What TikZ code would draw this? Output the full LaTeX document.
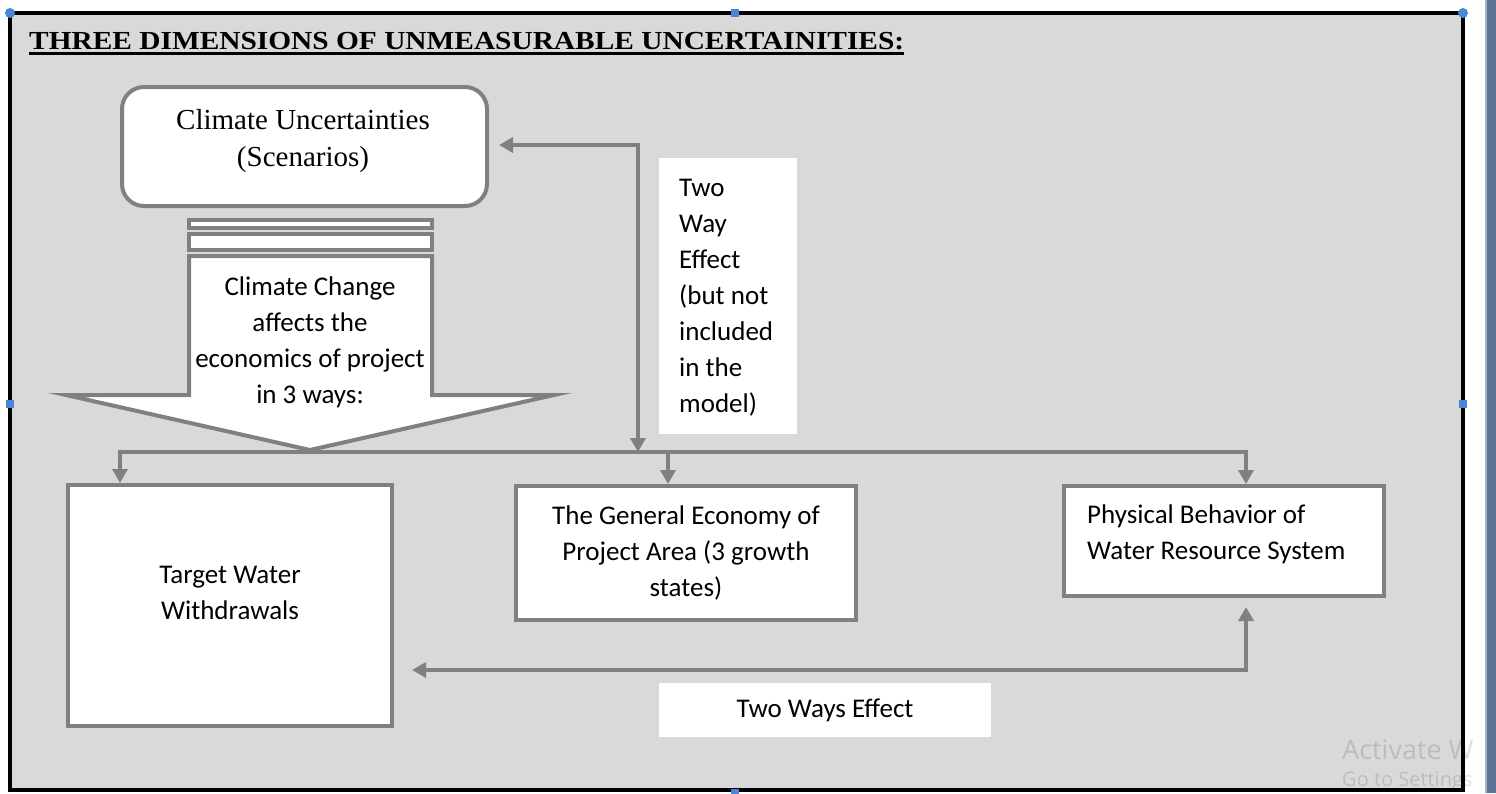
\documentclass[tikz,border=0pt]{standalone}
\usepackage{fontspec}
\usepackage{graphicx}
\setmainfont{Liberation Serif}
\newfontfamily\calib{Carlito}
\newfontfamily\wmfont{Open Sans}
\usetikzlibrary{arrows.meta}
\definecolor{bggray}{HTML}{D9D9D9}
\definecolor{lgray}{HTML}{808080}
\definecolor{handle}{HTML}{4A86D8}
\definecolor{stripe}{HTML}{5B7397}
\begin{document}
\begin{tikzpicture}[x=1pt,y=-1pt,
  gbox/.style={draw=lgray, line width=4pt, fill=white, inner sep=0pt},
  conn/.style={draw=lgray, line width=4pt},
  tip/.style={-{Triangle[width=15pt,length=14pt]}},
  dtip/.style={{Triangle[width=15pt,length=14pt]}-{Triangle[width=15pt,length=14pt]}},
  ctext/.style={font=\calib\fontsize{27}{36}\selectfont, align=center, inner sep=0pt},
  whitebox/.style={fill=white, inner sep=0pt},
  hnd/.style={fill=handle},
  wmtext/.style={anchor=base west, inner sep=0pt, text=black, text opacity=0.13}
]
\useasboundingbox (0,0) rectangle (1496,793);
\fill[white] (0,0) rectangle (1496,793);
\fill[stripe] (1485,0) rectangle (1496,793);
\fill[stripe!55!white] (1485,0) rectangle (1487,793);
\draw[black, line width=4pt, fill=bggray] (10,13) rectangle (1463,790);

% title
\node[anchor=base west, inner sep=0pt, font=\fontsize{26}{30}\selectfont\bfseries] (title) at (29,49)
  {\scalebox{1.13}[1]{THREE DIMENSIONS OF UNMEASURABLE UNCERTAINITIES:}};
\draw[line width=3pt] ([yshift=-4pt]title.base west) -- ([yshift=-4pt]title.base east);

% climate box
\node[gbox, rounded corners=22pt, minimum width=365pt, minimum height=119pt] (clim) at (304.5,146.5) {};
\node[font=\fontsize{29}{37}\selectfont, align=center, inner sep=0pt] (climtxt) at (303,141.5)
  {Climate Uncertainties\\(Scenarios)};

% striped block arrow
\draw[conn, fill=white] (189,220) rectangle (432,228);
\draw[conn, fill=white] (189,234) rectangle (432,250);
\draw[conn, fill=white, line join=miter] (189,256) -- (432,256) -- (432,395) -- (554,395)
  -- (310,450) -- (66,395) -- (189,395) -- cycle;
\node[ctext] (cctxt) at (310,342) {Climate Change\\affects the\\economics of project\\in 3 ways:};

% boxes
\node[gbox, minimum width=324pt, minimum height=241pt] (tww) at (230,605.5) {};
\node[ctext] (twwtxt) at (230,593) {Target Water\\Withdrawals};
\node[gbox, minimum width=340pt, minimum height=134pt] (gen) at (686,553) {};
\node[ctext] (gentxt) at (686,553) {The General Economy of\\Project Area (3 growth\\states)};
\node[gbox, minimum width=320pt, minimum height=110pt] (phys) at (1224,541) {};
\node[ctext, align=left, anchor=west] (phystxt) at (1087,534.5) {Physical Behavior of\\Water Resource System};

% white label boxes
\node[whitebox, minimum width=138pt, minimum height=276pt] (twbox) at (728,296) {};
\node[ctext, align=left, anchor=west] (twtxt) at (679,297.5) {Two\\Way\\Effect\\(but not\\included\\in the\\model)};
\node[whitebox, ctext, minimum width=332pt, minimum height=54pt] (twl) at (825,710) {Two Ways Effect};

% connectors
\coordinate (j1) at (120,452);
\coordinate (j2) at (668,452);
\coordinate (j3) at (1246,452);
\coordinate (j4) at (638,452);
\coordinate (j4t) at (638,145);
\coordinate (cl) at ([xshift=10pt]clim.east);
\draw[conn, dtip] (tww.north -| j1) -- (j1) -- (j3) -- (phys.north -| j3);
\draw[conn, tip] (j2) -- (gen.north -| j2);
\draw[conn, dtip] (j4) -- (j4t) -- (cl |- j4t);
\coordinate (b1) at (1246,670);
\coordinate (b2) at ([xshift=18pt]tww.east |- b1);
\coordinate (b3) at ([yshift=-9pt]phys.south -| b1);
\draw[conn, dtip] (b2) -- (b1) -- (b3);

% selection handles
\fill[hnd] (10,13) circle (5pt);
\fill[hnd] (1463,13) circle (5pt);
\fill[hnd] (731,9) rectangle (739,17);
\fill[hnd] (6,400) rectangle (14,408);
\fill[hnd] (1459,400) rectangle (1467,408);
\fill[hnd] (731,789) rectangle (739,797);

% watermark
\node[wmtext, font=\wmfont\fontsize{27}{30}\selectfont] (wm1) at (1342,759) {Activate W};
\node[wmtext, font=\wmfont\fontsize{20}{24}\selectfont] (wm2) at (1342,786) {Go to Settings};
\end{tikzpicture}
\end{document}
